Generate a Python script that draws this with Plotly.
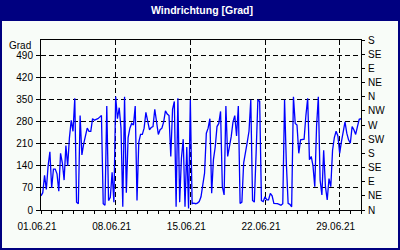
import pandas as pd
import plotly.graph_objects as go

# ---- data (4-hourly wind direction in degrees) ----
start = "2021-06-01"
step = "4h"
direction = [
    45, 55, 110, 65, 140, 185,
    70, 130, 130, 115, 60, 180,
    150, 95, 205, 140, 230, 285,
    250, 355, 25, 20, 300, 175,
    210, 235, 260, 250, 250, 290,
    285, 288, 290, 295, 300, 20,
    15, 330, 30, 40, 120, 25,
    360, 290, 325, 260, 10, 360,
    55, 230, 260, 275, 270, 330,
    30, 215, 240, 240, 260, 310,
    280, 255, 262, 265, 320, 270,
    240, 255, 260, 280, 315, 305,
    300, 170, 320, 345, 10, 355,
    25, 165, 225, 10, 200, 5,
    350, 20, 22, 20, 22, 27,
    42, 80, 117, 244, 260, 290,
    53, 160, 200, 265, 275, 313,
    74, 48, 330, 170, 200, 233,
    280, 300, 235, 330, 21, 25,
    150, 190, 215, 250, 350, 30,
    25, 180, 350, 345, 30, 27,
    42, 32, 32, 53, 45, 21,
    21, 20, 18, 15, 20, 350,
    150, 21, 18, 10, 360, 275,
    270, 180, 223, 223, 225, 300,
    355, 160, 170, 140, 74, 265,
    360, 95, 48, 190, 74, 32,
    100, 74, 190, 230, 250, 235,
    180, 217, 255, 280, 244, 223,
    212, 265, 255, 240, 265, 288,
    290,
]
times = pd.date_range(start, periods=len(direction), freq=step)

left_ticks = [0, 70, 140, 210, 280, 350, 420, 490]
right_ticks = [0, 45, 90, 135, 180, 225, 270, 315, 360, 405, 450, 495, 540]
right_labels = ["N", "NE", "E", "SE", "S", "SW", "W", "NW", "N", "NE", "E", "SE", "S"]
x_range = ["2021-06-01", "2021-07-01"]
y_range = [0, 540]
title = "Windrichtung [Grad]"
unit = "Grad"

NAVY = "#000080"
BG = "#F8FCF8"
FONT = "Liberation Sans"

fig = go.Figure()
fig.add_trace(go.Scatter(x=times, y=direction, mode="lines",
                         line=dict(color="#0000FF", width=1.3),
                         showlegend=False, hoverinfo="skip"))
fig.add_trace(go.Scatter(x=times, y=direction, mode="lines", yaxis="y2",
                         line=dict(color="rgba(0,0,0,0)", width=0),
                         showlegend=False, hoverinfo="skip"))

L, R, T, B = 41, 39, 40, 40
W, H = 400, 250
pw, ph = W - L - R, H - T - B

def px(x):
    return (x - L) / pw

def py(y):
    return (H - B - y) / ph

fig.update_layout(
    width=W, height=H,
    margin=dict(l=L, r=R, t=T, b=B, pad=0),
    paper_bgcolor=NAVY,
    plot_bgcolor=BG,
    font=dict(family=FONT, size=10, color="black"),
    showlegend=False,
    xaxis=dict(
        type="date", range=x_range,
        tick0="2021-06-01", dtick=7 * 86400000, tickformat="%d.%m.%y",
        ticks="outside", ticklen=3, tickcolor="black",
        showline=True, linecolor="black", linewidth=1, mirror=True,
        showgrid=True, gridcolor="black", gridwidth=1, griddash="5px,3px",
        zeroline=False, ticklabelshift=-4, ticklabelstandoff=4,
        minor=dict(dtick=86400000, ticks="outside", ticklen=3, tickcolor="black", showgrid=False),
    ),
    yaxis=dict(
        range=y_range, tickvals=left_ticks,
        ticks="outside", ticklen=4, tickcolor="black",
        showline=True, linecolor="black", linewidth=1,
        showgrid=True, gridcolor="black", gridwidth=1, griddash="5px,3px",
        zeroline=False, ticklabelstandoff=1,
    ),
    yaxis2=dict(
        range=y_range, overlaying="y", side="right",
        tickvals=right_ticks, ticktext=right_labels,
        ticks="outside", ticklen=3, tickcolor="black",
        showline=True, linecolor="black", linewidth=1,
        showgrid=False, zeroline=False, ticklabelstandoff=1,
    ),
    shapes=[dict(type="rect", xref="paper", yref="paper", layer="below",
                 x0=px(2), x1=px(398), y0=py(248), y1=py(21),
                 fillcolor=BG, line=dict(width=0))],
    annotations=[
        dict(text="<b>" + title + "</b>", xref="paper", yref="paper",
             x=px(202), y=py(10), xanchor="center", yanchor="middle",
             showarrow=False, font=dict(family=FONT, size=10.5, color="white")),
        dict(text=unit, xref="paper", yref="paper",
             x=px(33), y=py(45), xanchor="right", yanchor="middle",
             showarrow=False, font=dict(family=FONT, size=10, color="black")),
    ],
)

fig.write_html("out.html")
